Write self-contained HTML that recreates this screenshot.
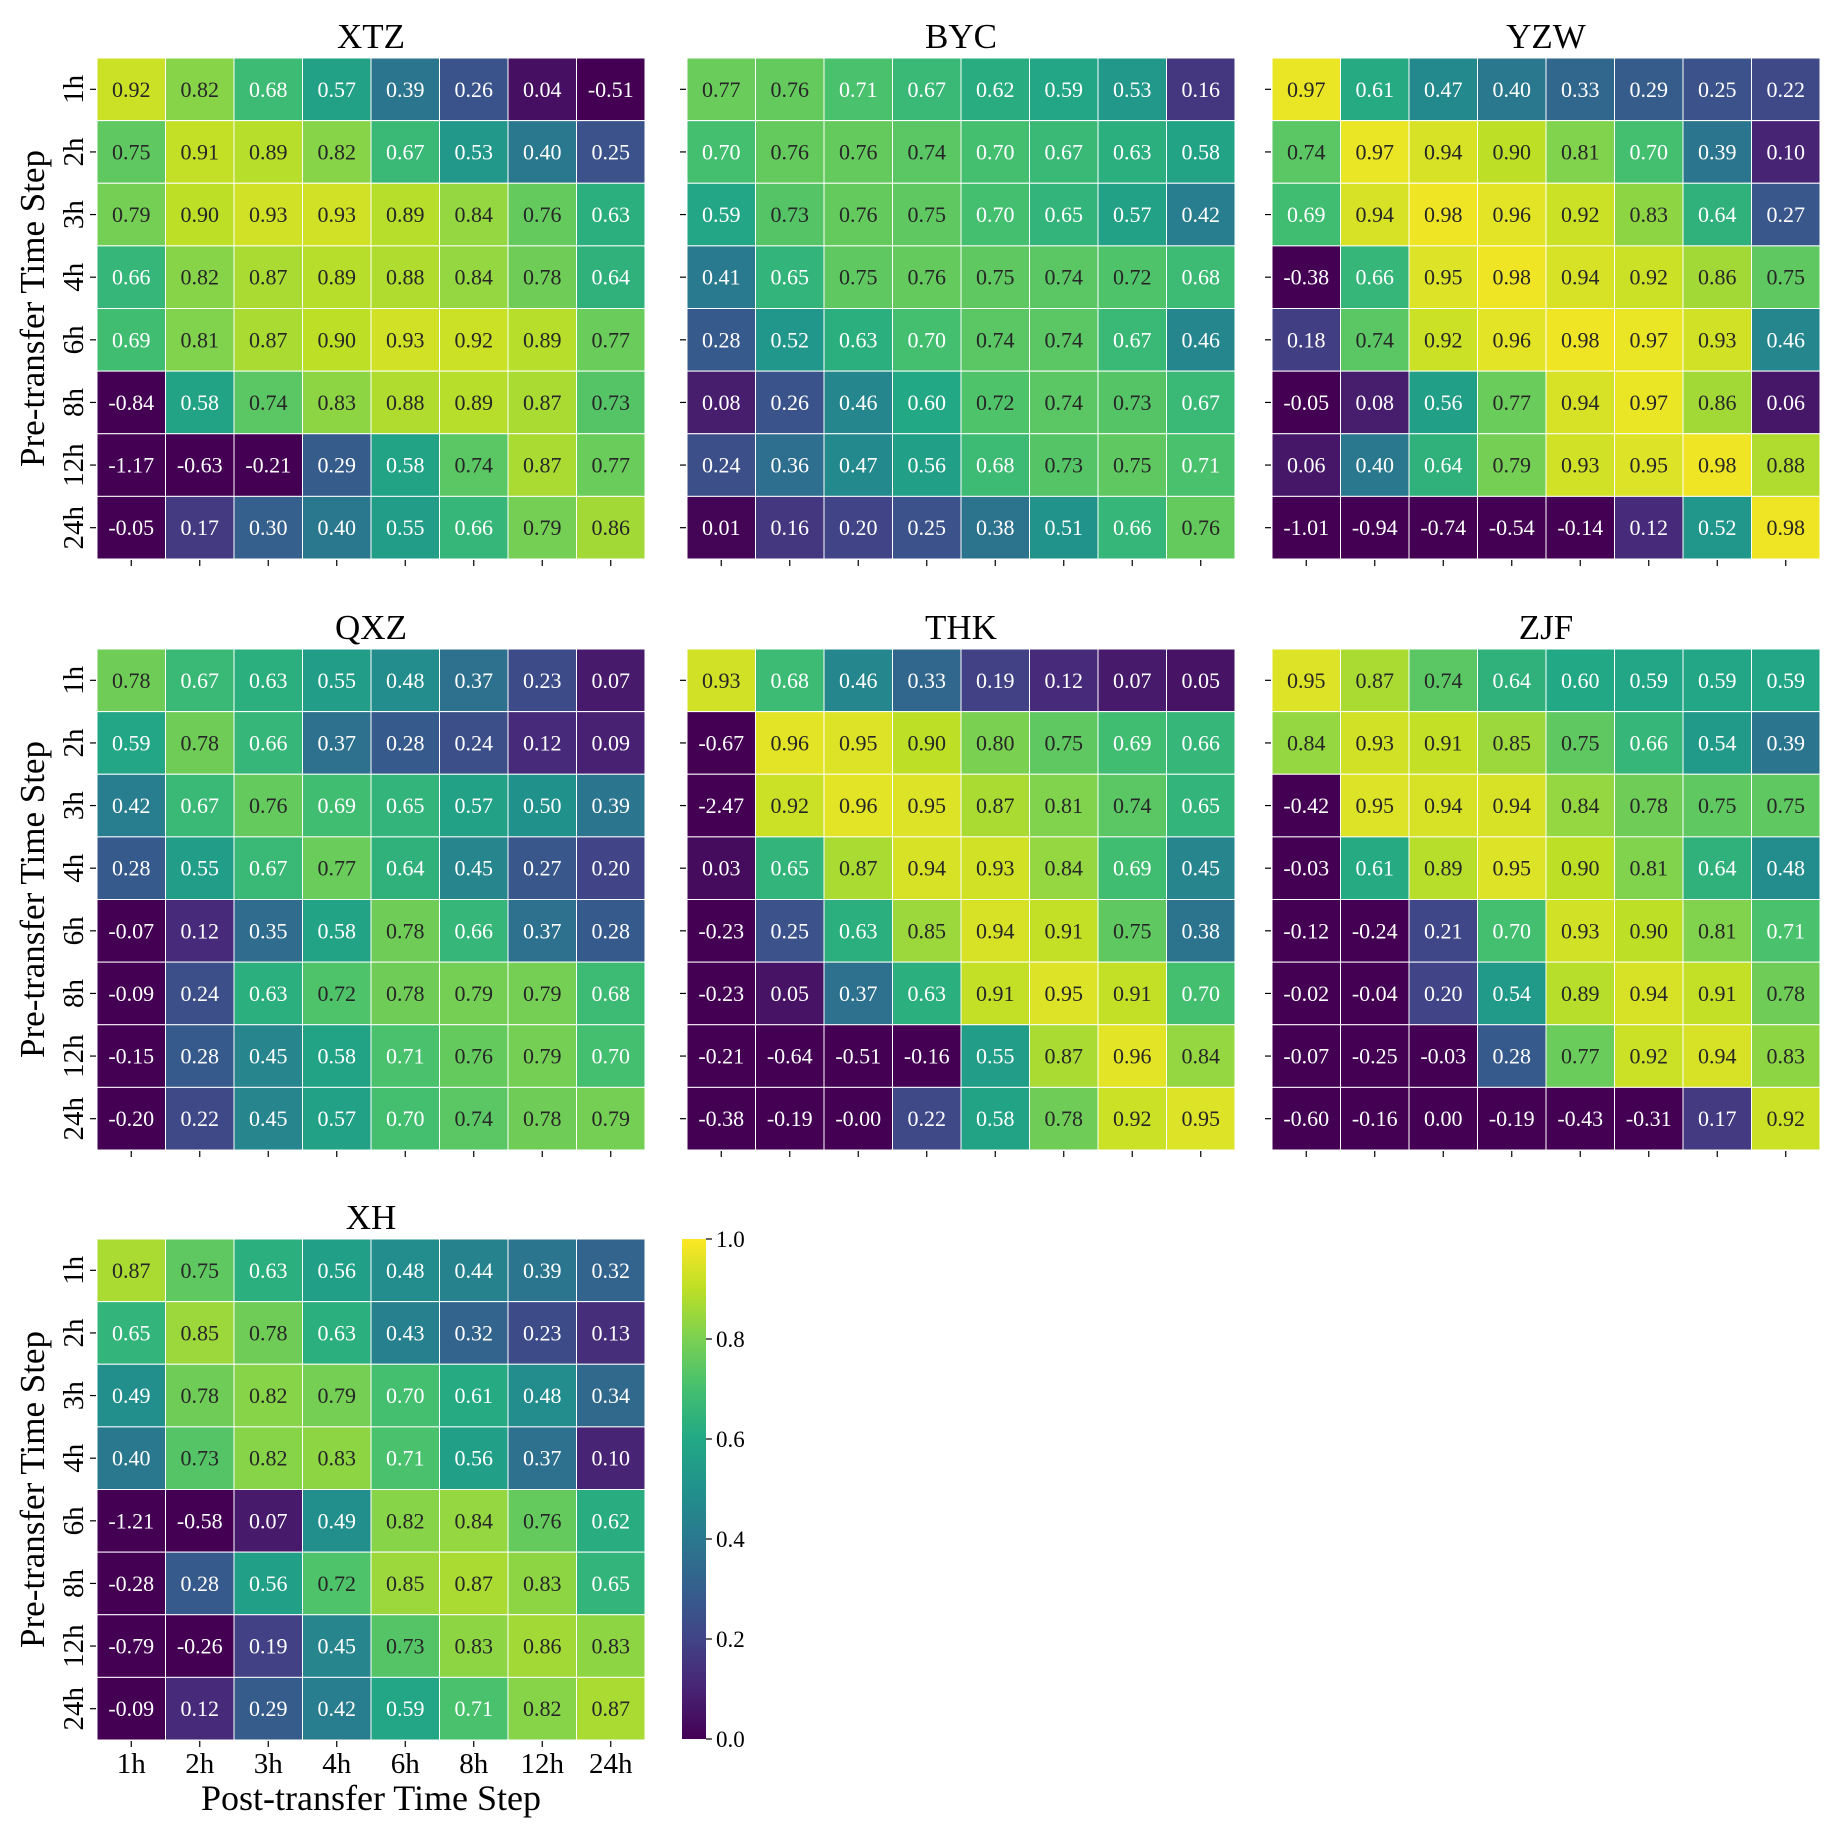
<!DOCTYPE html>
<html><head><meta charset="utf-8">
<style>
html,body{margin:0;padding:0;background:#fff;}
svg{display:block;font-family:"Liberation Serif","DejaVu Serif",serif;}
</style></head>
<body>
<svg id="chart" width="1844" height="1836" viewBox="0 0 1844 1836" xmlns="http://www.w3.org/2000/svg"></svg>
<script>
const timeSteps = ["1h","2h","3h","4h","6h","8h","12h","24h"];
const panelNames = ["XTZ","BYC","YZW","QXZ","THK","ZJF","XH"];
const valsXTZ = [
[0.92,0.82,0.68,0.57,0.39,0.26,0.04,-0.51],
[0.75,0.91,0.89,0.82,0.67,0.53,0.40,0.25],
[0.79,0.90,0.93,0.93,0.89,0.84,0.76,0.63],
[0.66,0.82,0.87,0.89,0.88,0.84,0.78,0.64],
[0.69,0.81,0.87,0.90,0.93,0.92,0.89,0.77],
[-0.84,0.58,0.74,0.83,0.88,0.89,0.87,0.73],
[-1.17,-0.63,-0.21,0.29,0.58,0.74,0.87,0.77],
[-0.05,0.17,0.30,0.40,0.55,0.66,0.79,0.86]];
const valsBYC = [
[0.77,0.76,0.71,0.67,0.62,0.59,0.53,0.16],
[0.70,0.76,0.76,0.74,0.70,0.67,0.63,0.58],
[0.59,0.73,0.76,0.75,0.70,0.65,0.57,0.42],
[0.41,0.65,0.75,0.76,0.75,0.74,0.72,0.68],
[0.28,0.52,0.63,0.70,0.74,0.74,0.67,0.46],
[0.08,0.26,0.46,0.60,0.72,0.74,0.73,0.67],
[0.24,0.36,0.47,0.56,0.68,0.73,0.75,0.71],
[0.01,0.16,0.20,0.25,0.38,0.51,0.66,0.76]];
const valsYZW = [
[0.97,0.61,0.47,0.40,0.33,0.29,0.25,0.22],
[0.74,0.97,0.94,0.90,0.81,0.70,0.39,0.10],
[0.69,0.94,0.98,0.96,0.92,0.83,0.64,0.27],
[-0.38,0.66,0.95,0.98,0.94,0.92,0.86,0.75],
[0.18,0.74,0.92,0.96,0.98,0.97,0.93,0.46],
[-0.05,0.08,0.56,0.77,0.94,0.97,0.86,0.06],
[0.06,0.40,0.64,0.79,0.93,0.95,0.98,0.88],
[-1.01,-0.94,-0.74,-0.54,-0.14,0.12,0.52,0.98]];
const valsQXZ = [
[0.78,0.67,0.63,0.55,0.48,0.37,0.23,0.07],
[0.59,0.78,0.66,0.37,0.28,0.24,0.12,0.09],
[0.42,0.67,0.76,0.69,0.65,0.57,0.50,0.39],
[0.28,0.55,0.67,0.77,0.64,0.45,0.27,0.20],
[-0.07,0.12,0.35,0.58,0.78,0.66,0.37,0.28],
[-0.09,0.24,0.63,0.72,0.78,0.79,0.79,0.68],
[-0.15,0.28,0.45,0.58,0.71,0.76,0.79,0.70],
[-0.20,0.22,0.45,0.57,0.70,0.74,0.78,0.79]];
const valsTHK = [
[0.93,0.68,0.46,0.33,0.19,0.12,0.07,0.05],
[-0.67,0.96,0.95,0.90,0.80,0.75,0.69,0.66],
[-2.47,0.92,0.96,0.95,0.87,0.81,0.74,0.65],
[0.03,0.65,0.87,0.94,0.93,0.84,0.69,0.45],
[-0.23,0.25,0.63,0.85,0.94,0.91,0.75,0.38],
[-0.23,0.05,0.37,0.63,0.91,0.95,0.91,0.70],
[-0.21,-0.64,-0.51,-0.16,0.55,0.87,0.96,0.84],
[-0.38,-0.19,-0.001,0.22,0.58,0.78,0.92,0.95]];
const valsZJF = [
[0.95,0.87,0.74,0.64,0.60,0.59,0.59,0.59],
[0.84,0.93,0.91,0.85,0.75,0.66,0.54,0.39],
[-0.42,0.95,0.94,0.94,0.84,0.78,0.75,0.75],
[-0.03,0.61,0.89,0.95,0.90,0.81,0.64,0.48],
[-0.12,-0.24,0.21,0.70,0.93,0.90,0.81,0.71],
[-0.02,-0.04,0.20,0.54,0.89,0.94,0.91,0.78],
[-0.07,-0.25,-0.03,0.28,0.77,0.92,0.94,0.83],
[-0.60,-0.16,0.00,-0.19,-0.43,-0.31,0.17,0.92]];
const valsXH = [
[0.87,0.75,0.63,0.56,0.48,0.44,0.39,0.32],
[0.65,0.85,0.78,0.63,0.43,0.32,0.23,0.13],
[0.49,0.78,0.82,0.79,0.70,0.61,0.48,0.34],
[0.40,0.73,0.82,0.83,0.71,0.56,0.37,0.10],
[-1.21,-0.58,0.07,0.49,0.82,0.84,0.76,0.62],
[-0.28,0.28,0.56,0.72,0.85,0.87,0.83,0.65],
[-0.79,-0.26,0.19,0.45,0.73,0.83,0.86,0.83],
[-0.09,0.12,0.29,0.42,0.59,0.71,0.82,0.87]];
const colorbarTicks = [0.0,0.2,0.4,0.6,0.8,1.0];

const allVals = [valsXTZ,valsBYC,valsYZW,valsQXZ,valsTHK,valsZJF,valsXH];
const NS = "http://www.w3.org/2000/svg";
const svg = document.getElementById("chart");
const colLeft = [97,687,1272], rowTop = [58,649,1239];
const PW = 548, PH = 501;

const vir = [[68,1,84],[72,36,117],[65,68,135],[53,95,141],[42,120,142],[33,145,140],[34,168,132],[68,191,112],[122,209,81],[189,223,38],[253,231,37]];
function viridis(v){
  v = Math.max(0, Math.min(1, v));
  const p = v*10, i = Math.min(9, Math.floor(p)), f = p - i;
  const a = vir[i], b = vir[i+1];
  return [0,1,2].map(k => Math.round(a[k] + (b[k]-a[k])*f));
}
function rgbStr(c){ return "rgb("+c[0]+","+c[1]+","+c[2]+")"; }
function lum(c){
  const l = c.map(x => { x/=255; return x<=0.03928 ? x/12.92 : Math.pow((x+0.055)/1.055,2.4); });
  return 0.2126*l[0]+0.7152*l[1]+0.0722*l[2];
}
function fmt(v){ let s = v.toFixed(2); if (v < 0 && s === "0.00") s = "-0.00"; return s; }
function el(tag, attrs, parent){
  const e = document.createElementNS(NS, tag);
  for (const k in attrs) e.setAttribute(k, attrs[k]);
  (parent || svg).appendChild(e);
  return e;
}

allVals.forEach((vals, p) => {
  const r = Math.floor(p/3), c = p % 3;
  const x0 = colLeft[c], y0 = rowTop[r];
  const cw = PW/timeSteps.length, ch = PH/timeSteps.length;
  const xPos = j => x0 + j*cw;
  const yPos = i => y0 + i*ch;
  const g = el("g", {});
  
  

  const t = el("text", {x: x0+PW/2, y: y0-10, "text-anchor":"middle", "font-size":35, fill:"#000"}, g);
  t.textContent = panelNames[p];
  
  

  vals.forEach((row, i) => row.forEach((v, j) => {
    const col = viridis(v);
    const rc = el("rect", {x: xPos(j), y: yPos(i), width: cw, height: ch, fill: rgbStr(col), stroke:"#fff", "stroke-width":1}, g);
    
    
    const tx = el("text", {x: xPos(j)+cw/2, y: yPos(i)+ch/2+7.5, "text-anchor":"middle", "font-size":22, fill: lum(col) > 0.408 ? "#262626" : "#fff"}, g);
    tx.textContent = fmt(v);
    
    
  }));

  timeSteps.forEach((lab, k) => {
    const cy = yPos(k)+ch/2, cx = xPos(k)+cw/2;
    el("line", {x1: x0-7, x2: x0-1, y1: cy, y2: cy, stroke:"#000", "stroke-width":1.2}, g);
    el("line", {x1: cx, x2: cx, y1: y0+PH+1, y2: y0+PH+7, stroke:"#000", "stroke-width":1.2}, g);
    if (c === 0) {
      const yl = el("text", {x: 0, y: 0, transform: "translate("+(x0-14)+","+cy+") rotate(-90)", "text-anchor":"middle", "font-size":29, fill:"#000"}, g);
      yl.textContent = lab;
      
      
    }
    if (p === 6) {
      const xl = el("text", {x: cx, y: y0+PH+33, "text-anchor":"middle", "font-size":29, fill:"#000"}, g);
      xl.textContent = lab;
      
      
    }
  });

  if (c === 0) {
    const ya = el("text", {x:0, y:0, transform: "translate(44,"+(y0+PH/2)+") rotate(-90)", "text-anchor":"middle", "font-size":35, fill:"#000"}, g);
    ya.textContent = "Pre-transfer Time Step";
    
    
  }
  if (p === 6) {
    const xa = el("text", {x: x0+PW/2, y: 1810, "text-anchor":"middle", "font-size":36, fill:"#000"}, g);
    xa.textContent = "Post-transfer Time Step";
    
    
  }
});

// colorbar
const cbX = 682, cbW = 24, cbTop = 1239, cbH = 500;
const defs = el("defs", {});
const grad = el("linearGradient", {id:"vgrad", x1:0, y1:1, x2:0, y2:0}, defs);
for (let k = 0; k <= 10; k++) el("stop", {offset: (k*10)+"%", "stop-color": rgbStr(vir[k])}, grad);
const cb = el("g", {});


el("rect", {x: cbX, y: cbTop, width: cbW, height: cbH, fill: "url(#vgrad)"}, cb);
const cbY = v => cbTop + cbH*(1-v);
colorbarTicks.forEach(v => {
  el("line", {x1: cbX+cbW, x2: cbX+cbW+6, y1: cbY(v), y2: cbY(v), stroke:"#000", "stroke-width":1.2}, cb);
  const tl = el("text", {x: cbX+cbW+10, y: cbY(v)+8, "font-size":23, fill:"#000"}, cb);
  tl.textContent = v.toFixed(1);
  
  
});
</script>
</body></html>
